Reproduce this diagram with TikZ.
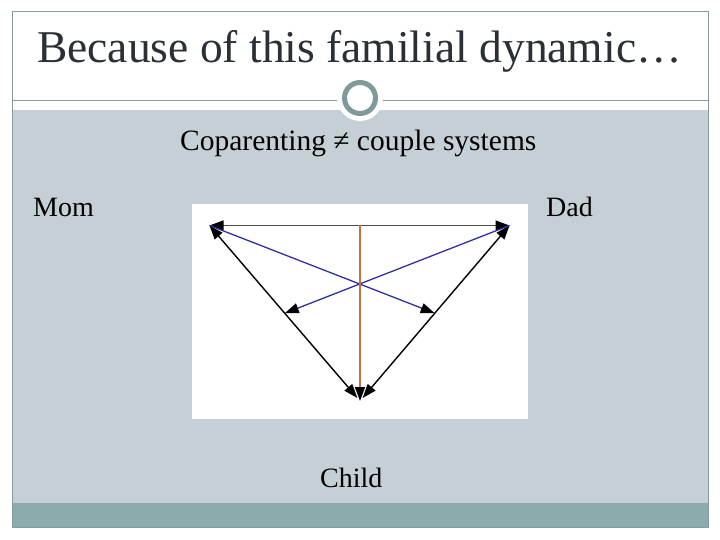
\documentclass[tikz,border=0pt]{standalone}
\usepackage{fontspec}
\setmainfont{Liberation Serif}
\usetikzlibrary{arrows.meta}
\definecolor{framegray}{HTML}{8A9A9A}
\definecolor{panel}{HTML}{C5D0D6}
\definecolor{band}{HTML}{8AACAC}
\definecolor{ring}{HTML}{7E9A9A}
\definecolor{titlec}{HTML}{2A3035}
\definecolor{topline}{HTML}{505050}
\definecolor{blueline}{HTML}{3030A0}
\definecolor{orangeline}{HTML}{C87040}
\tikzset{
  tiphead/.tip={Triangle[length=14pt,width=10pt,fill=black,color=black]},
  tip/.style={-tiphead},
  bothtip/.style={tiphead-tiphead},
  label/.style={font=\fontsize{28}{32}\selectfont, text=black, inner sep=0pt, anchor=base west}
}
\begin{document}
\begin{tikzpicture}[x=1pt,y=-1pt]
\useasboundingbox (0,0) rectangle (720,540);
\fill[white] (0,0) rectangle (720,540);
% panels
\fill[panel] (12,110) rectangle (708,503);
\fill[band] (12,503) rectangle (708,527);
\draw[framegray, line width=1pt] (12,12) rectangle (708,527);
\draw[framegray, line width=0.8pt] (12,100) -- (708,100);
% ring ornament
\fill[white] (360,98) circle (23);
\draw[ring, line width=5pt, fill=white] (360,98) circle (15.5);
% title
\node[font=\fontsize{45.5}{50}\selectfont, text=titlec, inner sep=0pt, anchor=base west] (title) at (37,63) {Because of this familial dynamic…};
\node[font=\fontsize{29.5}{34}\selectfont, text=black, inner sep=0pt, anchor=base west] (sub) at (180,151) {Coparenting ≠ couple systems};
\node[label] (momlbl) at (33,216) {Mom};
\node[label] (dadlbl) at (546,216) {Dad};
\node[label] (childlbl) at (320,487) {Child};
% diagram
\fill[white] (192,204) rectangle (528,419);
\coordinate (mom) at (209.5,225.5);
\coordinate (dad) at (509.5,225.5);
\coordinate (child) at (360,401);
\coordinate (top) at (360,225.5);
\path (mom) -- (child) coordinate[pos=0.5] (midL);
\path (dad) -- (child) coordinate[pos=0.5] (midR);
\draw[topline, line width=1.5pt, bothtip] (mom) -- (dad);
\draw[black, line width=1.4pt, bothtip, shorten >=4pt] (mom) -- (child);
\draw[black, line width=1.4pt, bothtip, shorten >=4pt] (dad) -- (child);
\draw[blueline, line width=1.3pt, tip] (mom) -- (midR);
\draw[blueline, line width=1.3pt, tip] (dad) -- (midL);
\draw[orangeline, line width=1.6pt, tip] (top) -- (child);
\end{tikzpicture}
\end{document}
